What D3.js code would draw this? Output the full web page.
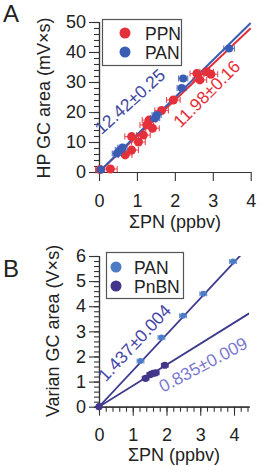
<!DOCTYPE html>
<html><head><meta charset="utf-8">
<script src="https://cdn.jsdelivr.net/npm/d3@7"></script>
<style>
body{margin:0;background:#fff;}
svg{display:block;font-family:"Liberation Sans",Arial,Helvetica,sans-serif;}
</style></head>
<body>
<svg id="c" width="265" height="466"></svg>
<script>
// ---------- Panel A data ----------
const ppnX   = [0.03,0.30,0.69,0.86,1.04,0.86,1.17,1.41,1.26,1.32,1.65,1.96,2.58,2.66,2.84,2.95];
const ppnY   = [0.8, 1.0, 5.7, 7.3, 10.0,11.8,12.3,14.6,15.7,17.3,20.5,24.0,32.8,30.7,33.4,32.6];
const ppnErr = [0.12,0.18,0.18,0.18,0.18,0.18,0.18,0.18,0.18,0.18,0.18,0.18,0.18,0.18,0.18,0.18];
const panAX  = [0.05,0.47,0.55,0.62,1.48,1.52,2.18,2.22,3.43];
const panAY  = [0.8, 6.2, 7.3, 8.2, 17.9,19.0,28.0,31.2,41.2];
const panAErr= [0.06,0.12,0.12,0.12,0.12,0.12,0.12,0.12,0.14];
const slopeA = {PPN:11.98, PAN:12.42};
const labelsA = ["12.42±0.25","11.98±0.16"];
const ticksAX = [0,1,2,3,4];
const ticksAY = [0,10,20,30,40,50];

// ---------- Panel B data ----------
const panBX   = [0,1.23,1.85,2.49,3.09,3.97];
const panBY   = [0,1.82,2.76,3.62,4.50,5.78];
const panBErr = [0,0.1,0.1,0.1,0.1,0.1];
const pnbnX   = [0,1.38,1.52,1.60,1.68,1.95];
const pnbnY   = [0,1.13,1.28,1.33,1.35,1.65];
const pnbnErr = [0,0.1,0.1,0.1,0.1,0.1];
const slopeB = {PAN:1.437, PnBN:0.835};
const labelsB = ["1.437±0.004","0.835±0.009"];
const ticksBX = [0,1,2,3,4];
const ticksBY = [0,1,2,3,4,5,6];

const RED="#e3303b", BLUE="#3a5db4", BLUEL="#4c7cc6", PURP="#43358a", NAVY="#3b3a8e";
const AX="#333";
const FS=18;
const svg = d3.select("#c");
const fmt = d3.format("d");

function minorTicks(lo,hi,step){const a=[];for(let v=lo;v<=hi+1e-9;v+=step){a.push(+v.toFixed(4));}return a;}

function styleAxis(g){
  g.select(".domain").attr("stroke",AX).attr("stroke-width",1.2);
  g.selectAll(".tick line").attr("stroke",AX).attr("stroke-width",1.1);
  g.selectAll(".tick text").attr("fill","#222").attr("font-size",FS).attr("font-family","Liberation Sans, Arial, sans-serif");
}

// ================= Panel A =================
const xA = d3.scaleLinear([0,4],[99,250.7]);
const yA = d3.scaleLinear([0,50],[172,22]);
const gA = svg.append("g");

gA.append("g").attr("transform","translate(99,0)")
  .call(d3.axisLeft(yA).tickValues(minorTicks(0,50,2)).tickSize(5).tickFormat(""))
  .call(styleAxis);
gA.append("g").attr("transform","translate(99,0)")
  .call(d3.axisLeft(yA).tickValues(ticksAY).tickSize(10).tickPadding(3).tickSizeOuter(0).tickFormat(fmt))
  .call(styleAxis);
gA.append("g").attr("transform","translate(0,172)")
  .call(d3.axisBottom(xA).tickValues(ticksAX).tickSize(9).tickPadding(13).tickSizeOuter(0).tickFormat(fmt))
  .call(styleAxis);

gA.append("text").attr("transform","translate(50,98) rotate(-90)").attr("text-anchor","middle")
  .attr("font-size",FS).attr("fill","#222").text("HP GC area (mV×s)");
gA.append("text").attr("x",175).attr("y",228).attr("text-anchor","middle")
  .attr("font-size",FS).attr("fill","#222").text("ΣPN (ppbv)");
gA.append("text").attr("x",3).attr("y",22).attr("font-size",24).attr("fill","#222").text("A");

// fit lines
gA.append("line").attr("x1",xA(0)).attr("y1",yA(0)).attr("x2",xA(4)).attr("y2",yA(4*slopeA.PPN))
  .attr("stroke",RED).attr("stroke-width",2);
gA.append("line").attr("x1",xA(0)).attr("y1",yA(0)).attr("x2",xA(4)).attr("y2",yA(4*slopeA.PAN))
  .attr("stroke",BLUE).attr("stroke-width",2);

function drawPts(g,xs,ys,es,xS,yS,col,r,cap){
  const d = xs.map((x,i)=>({x,y:ys[i],e:es[i]}));
  const eg = g.append("g").attr("stroke",col).attr("stroke-width",1.1).attr("opacity",0.85);
  d.forEach(p=>{
    if(p.e<=0) return;
    eg.append("line").attr("x1",xS(p.x-p.e)).attr("x2",xS(p.x+p.e)).attr("y1",yS(p.y)).attr("y2",yS(p.y));
    [p.x-p.e,p.x+p.e].forEach(v=>eg.append("line").attr("x1",xS(v)).attr("x2",xS(v))
      .attr("y1",yS(p.y)-cap).attr("y2",yS(p.y)+cap));
  });
  g.append("g").selectAll("circle").data(d).join("circle")
    .attr("cx",p=>xS(p.x)).attr("cy",p=>yS(p.y)).attr("r",r).attr("fill",col);
}
drawPts(gA,ppnX,ppnY,ppnErr,xA,yA,RED,4.5,3);
drawPts(gA,panAX,panAY,panAErr,xA,yA,BLUE,4,3);

gA.append("text").attr("transform","translate(134,106) rotate(-42)").attr("text-anchor","middle")
  .attr("font-size",17.5).attr("fill","#4048a0").text(labelsA[0]);
gA.append("text").attr("transform","translate(211,98) rotate(-45)").attr("text-anchor","middle")
  .attr("font-size",17.5).attr("fill",RED).text(labelsA[1]);

// legend A
gA.append("rect").attr("x",102.5).attr("y",19.5).attr("width",79).attr("height",46)
  .attr("fill","#fff").attr("stroke","#555").attr("stroke-width",1.2);
[["PPN",RED],["PAN",BLUE]].forEach((d,i)=>{
  gA.append("circle").attr("cx",125).attr("cy",33+i*19).attr("r",5.5).attr("fill",d[1]);
  gA.append("text").attr("x",145).attr("y",39.5+i*19).attr("font-size",17.5).attr("fill","#222").text(d[0]);
});

// ================= Panel B =================
const xB = d3.scaleLinear([0,4],[99,234]);
const yB = d3.scaleLinear([0,6],[406.7,256]);
const gB = svg.append("g");
const xBmax = 4.45;

gB.append("g").attr("transform","translate(99,0)")
  .call(d3.axisLeft(yB).tickValues(minorTicks(0,6,0.2)).tickSize(5).tickFormat(""))
  .call(styleAxis);
gB.append("g").attr("transform","translate(99,0)")
  .call(d3.axisLeft(yB).tickValues(ticksBY).tickSize(10).tickPadding(3).tickSizeOuter(0).tickFormat(fmt))
  .call(styleAxis);
const xBext = d3.scaleLinear([0,xBmax],[xB(0),xB(xBmax)]);
gB.append("g").attr("transform","translate(0,406.7)")
  .call(d3.axisBottom(xBext).tickValues(minorTicks(0,4.4,0.2)).tickSize(5).tickFormat("").tickSizeOuter(0))
  .call(styleAxis);
gB.append("g").attr("transform","translate(0,406.7)")
  .call(d3.axisBottom(xBext).tickValues(ticksBX).tickSize(9).tickPadding(13).tickSizeOuter(0).tickFormat(fmt))
  .call(styleAxis);

gB.append("text").attr("transform","translate(59,331) rotate(-90)").attr("text-anchor","middle")
  .attr("font-size",FS).attr("fill","#222").text("Varian GC area (V×s)");
gB.append("text").attr("x",174).attr("y",461).attr("text-anchor","middle")
  .attr("font-size",FS).attr("fill","#222").text("ΣPN (ppbv)");
gB.append("text").attr("x",3).attr("y",277).attr("font-size",24).attr("fill","#222").text("B");

svg.append("clipPath").attr("id","cb").append("rect")
  .attr("x",xB(0)).attr("y",yB(6)).attr("width",xB(xBmax)-xB(0)).attr("height",yB(0)-yB(6));
const lB = gB.append("g").attr("clip-path","url(#cb)");
[slopeB.PAN,slopeB.PnBN].forEach(s=>{
  lB.append("line").attr("x1",xB(0)).attr("y1",yB(0)).attr("x2",xB(xBmax)).attr("y2",yB(xBmax*s))
    .attr("stroke",NAVY).attr("stroke-width",1.8);
});
drawPts(gB,panBX,panBY,panBErr,xB,yB,BLUEL,3,2.5);
drawPts(gB,pnbnX,pnbnY,pnbnErr,xB,yB,PURP,3.6,2.5);

gB.append("text").attr("transform","translate(139,347) rotate(-47)").attr("text-anchor","middle")
  .attr("font-size",17.5).attr("fill","#4646a8").text(labelsB[0]);
gB.append("text").attr("transform","translate(206,370) rotate(-28)").attr("text-anchor","middle")
  .attr("font-size",17.5).attr("fill","#7b79cf").text(labelsB[1]);

// legend B
gB.append("rect").attr("x",106.5).attr("y",252.5).attr("width",77).attr("height",46)
  .attr("fill","#fff").attr("stroke","#555").attr("stroke-width",1.2);
[["PAN",BLUEL],["PnBN",PURP]].forEach((d,i)=>{
  gB.append("circle").attr("cx",116).attr("cy",267+i*19).attr("r",5.5).attr("fill",d[1]);
  gB.append("text").attr("x",134).attr("y",273.5+i*19).attr("font-size",17.5).attr("fill","#222").text(d[0]);
});
</script>
</body></html>
